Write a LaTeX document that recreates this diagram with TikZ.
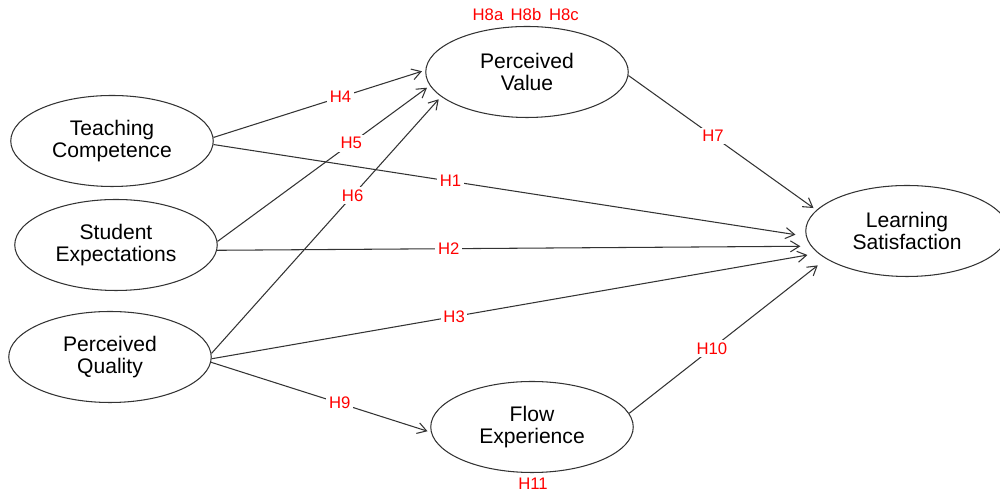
\documentclass[tikz,border=0pt]{standalone}
\usepackage{fontspec}
\setmainfont{Liberation Sans}
\usetikzlibrary{shapes.geometric,arrows.meta}
\begin{document}
\begin{tikzpicture}[
    construct/.style={
        draw=black!80,
        line width=0.6pt,
        ellipse,
        minimum width=4.05cm,
        minimum height=1.82cm,
        align=center,
        font=\fontsize{12}{12.5}\selectfont
    },
    link/.style={
        draw=black!80,
        line width=0.6pt,
        -{Straight Barb[length=1.8mm,width=2.2mm]},
        shorten >=2pt
    },
    hyp/.style={
        fill=white,
        text=red,
        inner sep=1.5pt,
        font=\fontsize{9.5}{10}\selectfont
    }
]
    \useasboundingbox (0,0) rectangle (20,9.88);

    % --- Constructs ---
    \node[construct] (tc) at (2.24,7.06) {Teaching\\Competence};
    \node[construct] (se) at (2.32,4.98) {Student\\Expectations};
    \node[construct] (pq) at (2.20,2.74) {Perceived\\Quality};
    \node[construct] (pv) at (10.54,8.44) {Perceived\\Value};
    \node[construct] (fe) at (10.64,1.34) {Flow\\Experience};
    \node[construct] (ls) at (18.14,5.26) {Learning\\Satisfaction};

    % --- Paths to Perceived Value ---
    \draw[link] (tc.2) -- node[hyp, pos=0.6] {H4} (pv.179);
    \draw[link] (se.2) -- node[hyp, pos=0.63] {H5} (pv.188);
    \draw[link] (pq.2) -- node[hyp, pos=0.615] {H6} (pv.196);

    % --- Direct paths to Learning Satisfaction ---
    \draw[link, shorten >=6pt] (tc.-2) -- node[hyp, pos=0.4] {H1} (ls.183);
    \draw[link, shorten >=6pt] (se.-3) -- node[hyp, pos=0.39] {H2} (ls.189);
    \draw[link, shorten >=6pt] (pq.-1) -- node[hyp, pos=0.4] {H3} (ls.194);
    \draw[link] (pv.-2) -- node[hyp, pos=0.45] {H7} (ls.167);

    % --- Flow Experience ---
    \draw[link] (pq.-3) -- node[hyp, pos=0.585] {H9} (fe.183);
    \draw[link, shorten >=6pt] (fe.8) -- node[hyp, pos=0.42] {H10} (ls.199);

    % --- Mediation labels ---
    \node[hyp] (h8a) at (9.76,9.58) {H8a};
    \node[hyp] (h8b) at (10.52,9.58) {H8b};
    \node[hyp] (h8c) at (11.28,9.58) {H8c};
    \node[hyp] (h11) at (10.66,0.2) {H11};
\end{tikzpicture}
\end{document}
